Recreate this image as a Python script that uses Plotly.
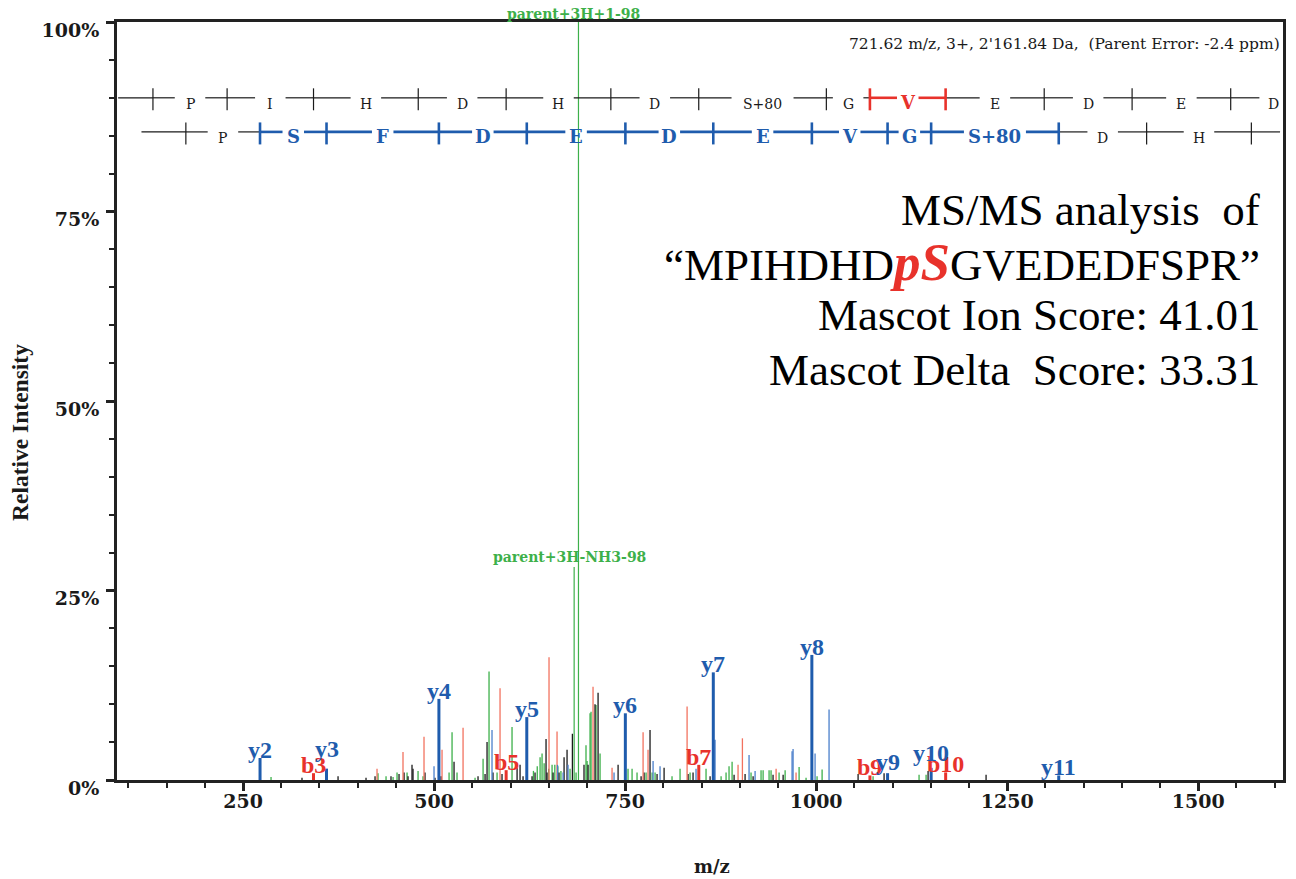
import numpy as np
import plotly.graph_objects as go

# ---------------- data ----------------
# peptide MPIHDHDpSGVEDEDFSPR (residue masses, monoisotopic)
residues = ["M", "P", "I", "H", "D", "H", "D", "S+80", "G", "V",
            "E", "D", "E", "D", "F", "S", "P", "R"]
residue_mass = [131.040, 97.053, 113.084, 137.059, 115.027, 137.059, 115.027,
                166.998, 57.021, 99.068, 129.043, 115.027, 129.043, 115.027,
                147.068, 87.032, 97.053, 156.101]

# labelled fragment ions
b_labels = ["b3", "b5", "b7", "b9", "b10"]
b_mz = [342.2, 594.3, 846.4, 1070.4, 1169.5]
b_int = [0.9, 1.3, 2.0, 0.6, 1.0]

y_labels = ["y2", "y3", "y4", "y5", "y6", "y7", "y8", "y9", "y10", "y11"]
y_mz = [272.2, 359.2, 506.3, 621.3, 750.3, 865.4, 994.4, 1093.5, 1150.5, 1317.5]
y_int = [2.9, 1.5, 10.7, 8.3, 8.8, 14.2, 16.5, 0.9, 1.6, 0.6]

parent_labels = ["parent+3H+1-98", "parent+3H-NH3-98"]
parent_mz = [688.95, 683.3]
parent_int = [100.0, 28.1]

# unlabelled peaks
black_mz = [327.1, 374.3, 410.9, 422.7, 443.6, 454.1, 460.7, 465.9, 471.1, 472.4,
            488.1, 501.2, 509.1, 526.1, 557.5, 566.7, 569.3, 577.1, 588.9, 608.6,
            612.5, 616.4, 628.2, 632.1, 646.5, 647.8, 655.7, 663.5, 670.1, 674.0,
            681.0, 696.2, 701.5, 710.6, 714.6, 740.8, 770.9, 774.8, 782.6, 791.8,
            801.0, 832.4, 838.9, 861.2, 892.6, 907.0, 917.5, 943.6, 956.8, 1054.9,
            1088.9, 1146.5, 1222.4]
black_int = [0.3, 0.5, 0.3, 0.5, 0.5, 0.8, 1.0, 0.5, 2.0, 1.5,
             1.0, 0.3, 0.5, 2.4, 0.5, 0.8, 5.0, 1.0, 0.8, 1.6,
             2.0, 0.5, 0.5, 1.0, 5.4, 1.0, 1.0, 1.0, 3.0, 4.0,
             6.1, 2.0, 2.0, 10.0, 11.5, 2.0, 0.5, 1.0, 6.6, 0.8,
             1.6, 0.8, 1.0, 0.5, 0.7, 0.8, 0.5, 0.7, 0.7, 0.8,
             0.9, 1.2, 0.7]

green_mz = [286.6, 426.6, 437.1, 446.3, 451.5, 464.6, 479.0, 485.5, 519.6, 523.5,
            530.0, 553.6, 564.1, 571.9, 582.4, 602.0, 630.0, 635.0, 638.7, 641.3,
            644.0, 650.0, 654.4, 658.0, 662.0, 666.0, 677.9, 685.8, 698.8, 700.2,
            704.1, 705.4, 711.9, 717.2, 753.8, 759.1, 765.6, 777.4, 785.3, 789.2,
            811.4, 821.9, 835.0, 855.9, 875.6, 882.1, 886.0, 890.0, 914.8, 927.9,
            930.6, 938.4, 941.0, 951.5, 959.4, 977.7, 986.8, 1001.2, 1007.8, 1074.5,
            1134.7, 1143.9]
green_int = [0.4, 0.9, 0.5, 0.4, 1.0, 1.0, 1.2, 0.5, 1.0, 6.3,
             1.0, 0.3, 2.8, 14.3, 1.0, 7.0, 1.2, 1.8, 3.0, 3.5,
             2.2, 1.5, 2.0, 2.0, 1.8, 1.2, 1.5, 1.0, 4.6, 2.5,
             8.8, 9.0, 9.9, 3.5, 1.5, 1.5, 1.0, 1.0, 1.0, 1.0,
             0.5, 1.5, 1.0, 1.5, 0.5, 1.0, 1.8, 2.4, 1.0, 1.3,
             1.3, 1.3, 1.3, 1.0, 1.3, 1.7, 0.3, 0.5, 1.4, 0.5,
             0.7, 0.7]

salmon_mz = [425.3, 459.3, 486.8, 510.4, 537.9, 586.3, 650.4, 660.9, 708.0, 732.9,
             773.5, 780.0, 831.1, 897.8, 903.5, 947.6, 973.7]
salmon_int = [1.5, 3.7, 5.7, 4.0, 6.9, 12.1, 16.2, 6.4, 12.3, 1.6,
              6.3, 4.0, 9.7, 2.0, 5.5, 1.5, 1.0]

lblue_mz = [499.9, 575.8, 661.5, 668.8, 675.3, 735.5, 786.6, 795.7, 842.8, 867.7,
            912.2, 920.1, 968.5, 969.8, 998.6, 1016.9]
lblue_int = [1.8, 6.6, 2.0, 1.0, 2.0, 1.0, 2.5, 1.8, 1.5, 5.3,
             3.3, 1.2, 3.8, 4.1, 3.5, 9.3]

x_ticks = [250, 500, 750, 1000, 1250, 1500]
y_ticks = [0, 25, 50, 75, 100]
y_ticktext = ["0%", "25%", "50%", "75%", "100%"]

info_text = "721.62 m/z, 3+, 2'161.84 Da,  (Parent Error: -2.4 ppm)"
title_lines = ["MS/MS analysis  of",
               "“MPIHDHD<b><i><span style='color:#e8322b;font-size:53px'>pS</span></i></b>GVEDEDFSPR”",
               "Mascot Ion Score: 41.01",
               "Mascot Delta  Score: 33.31"]

# ---------------- layout constants ----------------
W, H = 1296, 879
ML, MT = 117, 22
MR = W - 1283
MB = H - 780
X_MIN, X_MAX = 85, 1611
PW = W - ML - MR
PH = H - MT - MB
PX_PER_MZ = PW / (X_MAX - X_MIN)


def paper_x(px):
    return (px - ML) / PW


def paper_y(py):
    return (H - MB - py) / PH


BLUE = "#1f5cad"
LBLUE = "#4a7fcb"
RED = "#e8322b"
SALMON = "#f2725f"
GREEN = "#3db04a"
BLACK = "#1a1a1a"
AX = "#222222"

# small vertical nudges (px) so overlapping ion labels stack like the reference
label_lift = {"y3": 12, "y10": 7, "y9": 3}

fig = go.Figure()


def sticks(mz, inten):
    xs, ys = [], []
    for m, i in zip(mz, inten):
        xs += [m, m, None]
        ys += [0, i, None]
    return xs, ys


def add_sticks(mz, inten, color, width):
    xs, ys = sticks(mz, inten)
    fig.add_trace(go.Scatter(x=xs, y=ys, mode="lines",
                             line=dict(color=color, width=width),
                             hoverinfo="skip", showlegend=False))


add_sticks(green_mz, green_int, GREEN, 1.3)
add_sticks(black_mz, black_int, BLACK, 1.3)
add_sticks(salmon_mz, salmon_int, SALMON, 1.3)
add_sticks(lblue_mz, lblue_int, LBLUE, 1.3)
add_sticks(parent_mz, parent_int, GREEN, 1.2)
add_sticks(b_mz, b_int, RED, 3)
add_sticks(y_mz, y_int, BLUE, 3)

annotations = []

ion_font = dict(family="Liberation Serif", size=24, weight="bold")
for lab, m, i in zip(b_labels, b_mz, b_int):
    annotations.append(dict(x=m, y=i, xref="x", yref="y", text=lab, showarrow=False,
                            yanchor="bottom", yshift=-7 + label_lift.get(lab, 0),
                            font=dict(color=RED, **ion_font)))
for lab, m, i in zip(y_labels, y_mz, y_int):
    annotations.append(dict(x=m, y=i, xref="x", yref="y", text=lab, showarrow=False,
                            yanchor="bottom", yshift=-7 + label_lift.get(lab, 0),
                            font=dict(color=BLUE, **ion_font)))
for lab, m, i, ys in zip(parent_labels, parent_mz, parent_int, [-2, 0]):
    annotations.append(dict(x=m, y=i, xref="x", yref="y", text=lab, showarrow=False,
                            yanchor="bottom", yshift=ys, xshift=-5,
                            font=dict(family="DejaVu Serif", size=14, weight="bold",
                                      color=GREEN)))

# ---------------- sequence ladders ----------------
masses = np.array(residue_mass)
b_ladder = 1.007 + np.cumsum(masses)              # b1..b18
y_res = residues[::-1]
y_ladder = 19.018 + np.cumsum(masses[::-1])       # y1..y18
b_start = 1.007
y_start = 19.018


def draw_ladder(level, start, bounds, labels, hl_segments, hl_color):
    edges = [start] + list(bounds)
    for k, lab in enumerate(labels):
        left, right = edges[k], edges[k + 1]
        mid = 0.5 * (left + right)
        hl = k in hl_segments
        color = hl_color if hl else BLACK
        lw = 2.6 if hl else 1.2
        char_w = 13.5 if hl else 10.5
        pad = 4 if hl else 10
        half_gap = (0.5 * len(lab) * char_w + pad) / PX_PER_MZ
        fig.add_trace(go.Scatter(x=[left, mid - half_gap, None, mid + half_gap, right],
                                 y=[level, level, None, level, level], mode="lines",
                                 line=dict(color=color, width=lw),
                                 hoverinfo="skip", showlegend=False))
        if X_MIN + 15 < mid < X_MAX:
            annotations.append(dict(
                x=min(mid, X_MAX - 12), y=level, xref="x", yref="y", text=lab,
                showarrow=False, yshift=-5 if hl else -6,
                font=dict(family="DejaVu Serif", size=18 if hl else 14,
                          weight="bold" if hl else "normal",
                          color=color)))
    # tick marks at ion boundaries
    for k, pos in enumerate(bounds):
        hl = (k in hl_segments) or ((k + 1) in hl_segments)
        color = hl_color if hl else BLACK
        fig.add_trace(go.Scatter(x=[pos, pos], y=[level + 1.25, level - 1.65],
                                 mode="lines",
                                 line=dict(color=color, width=2.6 if hl else 1.2),
                                 hoverinfo="skip", showlegend=False))


# row 1: b-series (V highlighted in red)
draw_ladder(90.0, b_start, b_ladder, residues, {9}, RED)
# row 2: y-series (y2..y11 highlighted in blue)
draw_ladder(85.5, y_start, y_ladder, y_res, set(range(2, 11)), BLUE)

# ---------------- texts ----------------
annotations.append(dict(x=paper_x(1282), y=paper_y(44), xref="paper", yref="paper",
                        xanchor="right", yanchor="middle", text=info_text,
                        showarrow=False,
                        font=dict(family="DejaVu Serif", size=15.5, color=BLACK)))
title_py = [210, 262, 315, 370]
for t, py in zip(title_lines, title_py):
    annotations.append(dict(x=paper_x(1262), y=paper_y(py), xref="paper", yref="paper",
                            xanchor="right", yanchor="middle", text=t, showarrow=False,
                            font=dict(family="Liberation Serif", size=45, color="#000")))

annotations.append(dict(x=paper_x(712), y=paper_y(866),
                        xref="paper", yref="paper", xanchor="center", yanchor="middle",
                        text="m/z", showarrow=False,
                        font=dict(family="DejaVu Serif", size=18, weight="bold",
                                  color=BLACK)))
annotations.append(dict(x=paper_x(20), y=paper_y(432),
                        xref="paper", yref="paper", xanchor="center", yanchor="middle",
                        text="Relative Intensity",
                        showarrow=False, textangle=-90,
                        font=dict(family="Liberation Serif", size=23.5, weight="bold",
                                  color=BLACK)))

tickfont = dict(family="DejaVu Serif", size=19, weight="bold", color=BLACK)

fig.update_layout(
    width=W, height=H,
    margin=dict(l=ML, r=MR, t=MT, b=MB, autoexpand=False),
    paper_bgcolor="white", plot_bgcolor="white",
    showlegend=False,
    hovermode=False,
    annotations=annotations,
    xaxis=dict(range=[X_MIN, X_MAX], showgrid=False, zeroline=False, automargin=False,
               showline=True, linecolor=AX, linewidth=3, mirror=True,
               tickmode="array", tickvals=x_ticks,
               ticks="outside", ticklen=8, tickwidth=3, tickcolor=AX,
               tickfont=tickfont, ticklabelstandoff=-6,
               minor=dict(tickmode="linear", tick0=0, dtick=50, ticks="outside",
                          ticklen=5, tickwidth=2, tickcolor=AX, showgrid=False)),
    yaxis=dict(range=[0, 100], showgrid=False, zeroline=False, automargin=False,
               showline=True, linecolor=AX, linewidth=3, mirror=True,
               tickmode="array", tickvals=y_ticks, ticktext=y_ticktext,
               ticks="outside", ticklen=8, tickwidth=3, tickcolor=AX,
               tickfont=tickfont, ticklabelshift=8, ticklabelstandoff=3,
               minor=dict(tickmode="linear", tick0=0, dtick=5, ticks="outside",
                          ticklen=5, tickwidth=2, tickcolor=AX, showgrid=False)),
)

# remove the browser's default body margin so the figure fills the window
fig.write_html("out.html",
               config={"displayModeBar": False},
               post_script="document.body.style.margin='0px';"
                           "document.body.style.overflow='hidden';")
